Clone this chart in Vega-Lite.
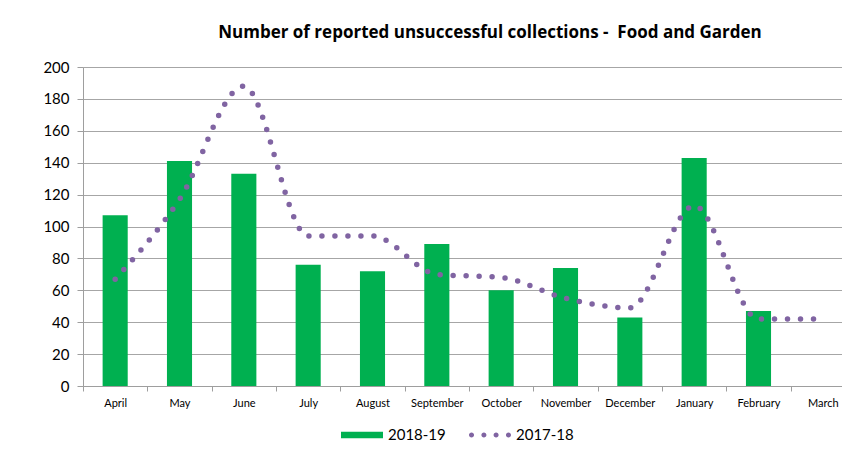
{
  "$schema": "https://vega.github.io/schema/vega-lite/v6.json",
  "width": 772,
  "height": 319,
  "autosize": {"type": "none"},
  "padding": {"left": 83, "top": 67, "right": 0, "bottom": 74},
  "background": "white",
  "title": {
    "text": "Number of reported unsuccessful collections -\u00a0 Food and Garden",
    "font": "Open Sans",
    "fontSize": 17,
    "fontWeight": "bold",
    "color": "#000000",
    "anchor": "middle",
    "frame": "group",
    "dx": 21,
    "offset": 18
  },
  "data": {
    "values": [
      {"month": "April", "s1819": 107, "s1718": 67},
      {"month": "May", "s1819": 141, "s1718": 117},
      {"month": "June", "s1819": 133, "s1718": 188},
      {"month": "July", "s1819": 76, "s1718": 94},
      {"month": "August", "s1819": 72, "s1718": 94},
      {"month": "September", "s1819": 89, "s1718": 70},
      {"month": "October", "s1819": 60, "s1718": 68},
      {"month": "November", "s1819": 74, "s1718": 55},
      {"month": "December", "s1819": 43, "s1718": 49},
      {"month": "January", "s1819": 143, "s1718": 113},
      {"month": "February", "s1819": 47, "s1718": 42},
      {"month": "March", "s1819": null, "s1718": 42}
    ]
  },
  "config": {
    "axisY": {
      "title": null,
      "values": [0, 20, 40, 60, 80, 100, 120, 140, 160, 180, 200],
      "labelOverlap": false,
      "grid": true,
      "gridColor": "#a6a6a6",
      "gridWidth": 1,
      "domainColor": "#9e9e9e",
      "tickColor": "#9e9e9e",
      "tickSize": 6,
      "labelFont": "Lato",
      "labelFontSize": 15,
      "labelColor": "#000000",
      "labelPadding": 8
    }
  },
  "encoding": {
    "x": {
      "field": "month",
      "type": "nominal",
      "sort": null,
      "scale": {"type": "band", "paddingInner": 0, "paddingOuter": 0},
      "axis": {
        "title": null,
        "labelAngle": 0,
        "tickBand": "extent",
        "tickSize": 5,
        "tickColor": "#9e9e9e",
        "domainColor": "#9e9e9e",
        "labelFont": "Lato",
        "labelFontSize": 11,
        "labelColor": "#000000",
        "labelPadding": 6,
        "labelOverlap": false,
        "grid": false
      }
    }
  },
  "layer": [
    {
      "mark": {"type": "bar", "width": {"band": 0.39}},
      "encoding": {
        "y": {
          "field": "s1819",
          "type": "quantitative",
          "scale": {"domain": [0, 200]},
          "axis": {
            "title": null,
            "values": [0, 20, 40, 60, 80, 100, 120, 140, 160, 180, 200],
            "labelOverlap": false,
            "tickCount": 11
          }
        },
        "color": {
          "datum": "2018-19",
          "type": "nominal",
          "scale": {"domain": ["2018-19", "2017-18"], "range": ["#00B050", "#8064A2"]},
          "legend": {
            "orient": "none",
            "legendX": 258,
            "legendY": 347,
            "direction": "horizontal",
            "title": null,
            "labelFont": "Lato",
            "labelFontSize": 15,
            "labelColor": "#000000",
            "labelOffset": 5,
            "symbolSize": 1764,
            "columnPadding": 22,
            "padding": 0,
            "encode": {
              "symbols": {
                "update": {
                  "shape": {"signal": "datum.value === '2018-19' ? 'M-1,-0.16H1V0.16H-1Z' : 'M-1,0a0.12,0.12 0 1,0 0.24,0a0.12,0.12 0 1,0 -0.24,0M-0.41,0a0.12,0.12 0 1,0 0.24,0a0.12,0.12 0 1,0 -0.24,0M0.17,0a0.12,0.12 0 1,0 0.24,0a0.12,0.12 0 1,0 -0.24,0M0.76,0a0.12,0.12 0 1,0 0.24,0a0.12,0.12 0 1,0 -0.24,0'"},
                  "fill": {"scale": "color", "field": "value"},
                  "stroke": {"value": "transparent"},
                  "strokeWidth": {"value": 0},
                  "opacity": {"value": 1},
                  "fillOpacity": {"value": 1}
                }
              }
            }
          }
        }
      }
    },
    {
      "mark": {
        "type": "line",
        "interpolate": "monotone",
        "strokeDash": [0, 13],
        "strokeCap": "round",
        "strokeWidth": 5.5
      },
      "encoding": {
        "y": {
          "field": "s1718",
          "type": "quantitative",
          "axis": {
            "title": null,
            "values": [0, 20, 40, 60, 80, 100, 120, 140, 160, 180, 200],
            "labelOverlap": false,
            "tickCount": 11
          }
        },
        "color": {"datum": "2017-18", "type": "nominal"}
      }
    }
  ]
}
